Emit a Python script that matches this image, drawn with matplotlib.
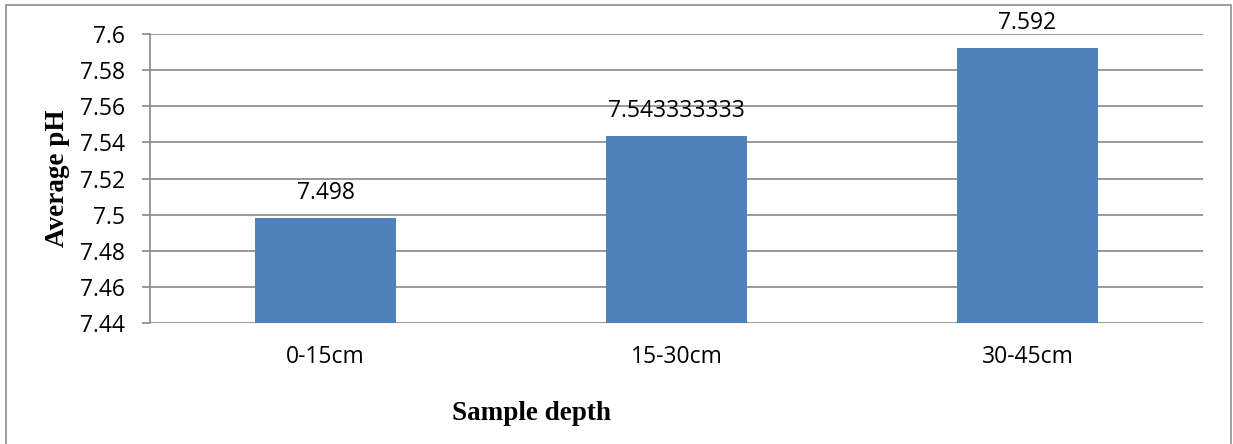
import matplotlib
matplotlib.use("Agg")
import matplotlib.pyplot as plt
from matplotlib.patches import Rectangle

# values
depths = ["0-15cm", "15-30cm", "30-45cm"]
avg_ph = [7.498, 7.543333333, 7.592]
value_labels = ["7.498", "7.543333333", "7.592"]
y_ticks = [7.44, 7.46, 7.48, 7.5, 7.52, 7.54, 7.56, 7.58, 7.6]
y_tick_labels = ["7.44", "7.46", "7.48", "7.5", "7.52", "7.54", "7.56", "7.58", "7.6"]

bar_color = "#4F81BD"
grid_color = "#888888"
tick_font = "Open Sans"
title_font = "Liberation Serif"

fig = plt.figure(figsize=(12.33, 4.44), dpi=100)
ax = fig.add_axes([150 / 1233, 121 / 444, 1053 / 1233, 289 / 444])

# outer frame like the Excel chart area
fig.patches.append(Rectangle((6 / 1233, -0.1), 1225 / 1233, 1.1 - 5 / 444,
                             transform=fig.transFigure, fill=False,
                             edgecolor="#8c8c8c", linewidth=1.2))

x = range(len(depths))
bars = ax.bar(x, avg_ph, width=0.4, color=bar_color, zorder=3)

ax.set_xlim(-0.5, len(depths) - 0.5)
ax.set_ylim(7.44, 7.6)
ax.set_yticks(y_ticks)
ax.set_yticklabels(y_tick_labels, fontfamily=tick_font, fontsize=16.5)
ax.set_xticks(list(x))
ax.set_xticklabels(depths, fontfamily=tick_font, fontsize=16.5)

ax.yaxis.grid(True, color=grid_color, linewidth=1.2, zorder=0)
ax.set_axisbelow(True)
for side in ["top", "right", "bottom"]:
    ax.spines[side].set_visible(False)
ax.spines["left"].set_color(grid_color)
ax.spines["left"].set_linewidth(1.2)

ax.tick_params(axis="y", length=6, width=1.2, color=grid_color, pad=12)
ax.tick_params(axis="x", length=0, pad=16)

for b, lab in zip(bars, value_labels):
    ax.annotate(lab, (b.get_x() + b.get_width() / 2, b.get_height()),
                xytext=(0, 18.5), textcoords="offset points",
                ha="center", va="center", fontfamily=tick_font, fontsize=16.5,
                annotation_clip=False, zorder=5)

fig.text(58 / 1233, 1 - 178 / 444, "Average pH", rotation=90, ha="center", va="center",
         fontfamily=title_font, fontweight="bold", fontsize=19.5)
fig.text(531 / 1233, 1 - 413 / 444, "Sample depth", ha="center", va="center",
         fontfamily=title_font, fontweight="bold", fontsize=19.5)

fig.savefig("out.png", dpi=100)
